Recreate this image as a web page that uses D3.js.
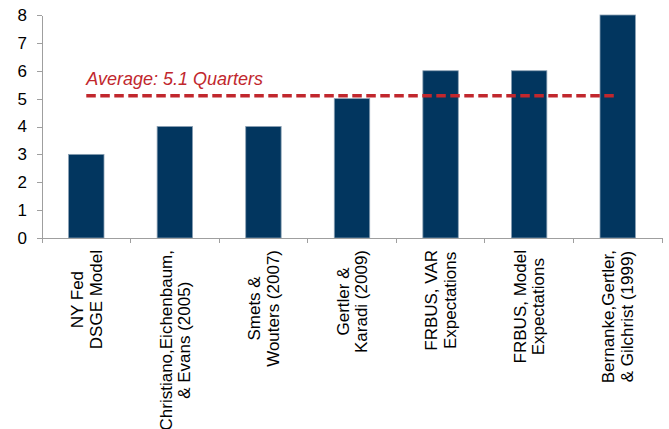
<!DOCTYPE html>
<html lang="en">
<head>
    <meta charset="UTF-8">
    <title>Quarters to peak</title>
    <style>
        body { margin: 0; background: #fff; }
        .axis path, .axis line { fill: none; stroke: #9f9f9f; shape-rendering: crispEdges; }
        .axis text { font-family: "Liberation Sans", Arial, sans-serif; font-size: 17px; fill: #000; }
        .xlab { font-family: "Liberation Sans", Arial, sans-serif; font-size: 17px; fill: #000; }
    </style>
</head>
<body>
<script src="https://d3js.org/d3.v7.min.js"></script>
<script>
    const width = 669;
    const height = 429;

    // data
    const models = [
        ["NY Fed", "DSGE Model"],
        ["Christiano,Eichenbaum,", "& Evans (2005)"],
        ["Smets &", "Wouters (2007)"],
        ["Gertler &", "Karadi (2009)"],
        ["FRBUS, VAR", "Expectations"],
        ["FRBUS, Model", "Expectations"],
        ["Bernanke,Gertler,", "& Gilchrist (1999)"]
    ];
    const quarters = [3, 4, 4, 5, 6, 6, 8];
    const yTicks = [0, 1, 2, 3, 4, 5, 6, 7, 8];
    const average = 5.1;
    const averageLabel = "Average: 5.1 Quarters";

    const padding = { left: 42, right: 7, top: 15, bottom: 191 };
    const barColor = "#02365f";
    const red = "#c1272d";

    const svg = d3.select("body").append("svg").attr("width", width).attr("height", height);

    const xScale = d3.scaleBand()
        .domain(d3.range(models.length))
        .range([padding.left, width - padding.right])
        .paddingInner(0.6)
        .paddingOuter(0.3);
    // band boundaries (for the tick marks)
    const step = xScale.step();
    const x0 = padding.left;

    const yScale = d3.scaleLinear()
        .domain([0, 8])
        .range([height - padding.bottom, padding.top]);

    // bars
    svg.append("g").selectAll("rect")
        .data(quarters)
        .enter()
        .append("rect")
        .attr("x", (d, i) => xScale(i))
        .attr("y", d => yScale(d))
        .attr("width", xScale.bandwidth())
        .attr("height", d => yScale(0) - yScale(d))
        .attr("fill", barColor)
        .attr("stroke", "#8aa0b3")
        .attr("stroke-width", 0.8);

    // y axis
    svg.append("g")
        .attr("class", "axis")
        .attr("transform", "translate(" + padding.left + ",0)")
        .call(d3.axisLeft(yScale).tickValues(yTicks).tickSize(5).tickPadding(10).tickSizeOuter(0));

    // x axis line + boundary ticks
    const xAxis = svg.append("g").attr("class", "axis");
    xAxis.append("line")
        .attr("x1", x0 - 5).attr("x2", width - padding.right)
        .attr("y1", yScale(0)).attr("y2", yScale(0));
    xAxis.selectAll("line.tick")
        .data(d3.range(models.length + 1))
        .enter()
        .append("line")
        .attr("class", "tick")
        .attr("x1", i => x0 + i * step).attr("x2", i => x0 + i * step)
        .attr("y1", yScale(0)).attr("y2", yScale(0) + 5);

    // category labels, rotated
    const labelTop = 250;
    const lh = 18.7;
    models.forEach((lines, i) => {
        const cx = xScale(i) + xScale.bandwidth() / 2;
        const g = svg.append("g")
            .attr("transform", "translate(" + cx + "," + labelTop + ") rotate(-90)");
        const t = g.append("text").attr("class", "xlab").attr("text-anchor", "middle");
        lines.forEach((s, j) => {
            t.append("tspan")
                .attr("x", 0)
                .attr("y", (j - (lines.length - 1) / 2) * lh + 6)
                .text(s);
        });
        const maxW = d3.max(t.selectAll("tspan").nodes(), n => n.getComputedTextLength());
        t.attr("transform", "translate(" + (-maxW / 2) + ",0)");
    });

    // average line
    const first = xScale(0) + xScale.bandwidth() / 2;
    const last = xScale(models.length - 1) + xScale.bandwidth() / 2;
    svg.append("line")
        .attr("x1", first).attr("x2", last)
        .attr("y1", yScale(average)).attr("y2", yScale(average))
        .attr("stroke", red)
        .attr("stroke-width", 3.5)
        .attr("stroke-dasharray", "9.5,4.5");

    svg.append("text")
        .attr("x", first)
        .attr("y", yScale(average) - 11)
        .attr("fill", red)
        .attr("font-family", "Liberation Sans, Arial, sans-serif")
        .attr("font-size", 18)
        .attr("font-style", "italic")
        .text(averageLabel);
</script>
</body>
</html>
